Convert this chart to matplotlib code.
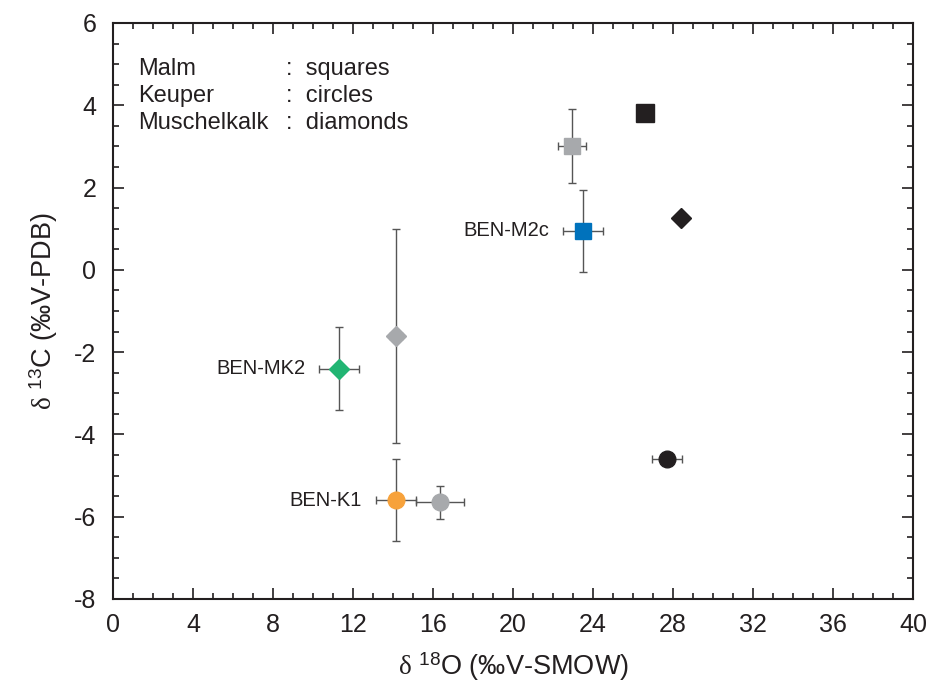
import matplotlib.pyplot as plt
from matplotlib.ticker import MultipleLocator

plt.rcParams.update({'font.size': 14, 'font.family': 'Liberation Sans',
                     'axes.unicode_minus': False,
                     'mathtext.fontset': 'custom',
                     'mathtext.rm': 'Liberation Sans',
                     'mathtext.it': 'Liberation Serif'})

# isotope data: d18O (V-SMOW), d13C (V-PDB), errors
malm_x = [26.6, 22.95, 23.5]
malm_y = [3.8, 3.0, 0.95]
malm_xerr = [0.0, 0.7, 1.0]
malm_yerr = [0.0, 0.9, 1.0]
malm_col = ['#231f20', '#a7a9ac', '#0072bc']

keuper_x = [27.7, 16.35, 14.15]
keuper_y = [-4.6, -5.65, -5.6]
keuper_xerr = [0.75, 1.2, 1.0]
keuper_yerr = [0.0, 0.4, 1.0]
keuper_col = ['#231f20', '#a7a9ac', '#f7a23b']

musch_x = [28.4, 14.15, 11.3]
musch_y = [1.25, -1.6, -2.4]
musch_xerr = [0.0, 0.3, 1.0]
musch_yerr = [0.0, 2.6, 1.0]
musch_col = ['#231f20', '#a7a9ac', '#21b573']

sample_names = ['BEN-M2c', 'BEN-K1', 'BEN-MK2']
sample_x = [malm_x[2], keuper_x[2], musch_x[2]]
sample_y = [malm_y[2], keuper_y[2], musch_y[2]]
sample_dx = [-1.7, -1.7, -1.7]

fig = plt.figure(figsize=(9.31, 6.84), dpi=100)
ax = fig.add_axes([0.1214, 0.1243, 0.8593, 0.8421])

def plot_group(xs, ys, xe, ye, cols, marker, sizes):
    for x, y, dx, dy, c, ms in zip(xs, ys, xe, ye, cols, sizes):
        ax.errorbar(x, y, xerr=dx if dx else None, yerr=dy if dy else None,
                    fmt='none', ecolor='#555555', elinewidth=1.0,
                    capsize=3, capthick=1.0, zorder=2)
        ax.plot(x, y, marker=marker, ms=ms, color=c, mec=c, ls='none', zorder=3)

plot_group(malm_x, malm_y, malm_xerr, malm_yerr, malm_col, 's', [12.5, 12, 12])
plot_group(keuper_x, keuper_y, keuper_xerr, keuper_yerr, keuper_col, 'o', [12, 12, 12])
plot_group(musch_x, musch_y, musch_xerr, musch_yerr, musch_col, 'D', [10.5, 10, 10.5])

for name, x, y, dx in zip(sample_names, sample_x, sample_y, sample_dx):
    ax.text(x + dx, y, name, ha='right', va='center', fontsize=14.5, color='#231f20')

# group / marker key
key_left = ['Malm', 'Keuper', 'Muschelkalk']
key_right = [':  squares', ':  circles', ':  diamonds']
for i, (a, b) in enumerate(zip(key_left, key_right)):
    yk = 4.88 - i * 0.66
    ax.text(1.25, yk, a, ha='left', va='center', fontsize=17, color='#231f20')
    ax.text(8.65, yk, b, ha='left', va='center', fontsize=17, color='#231f20')

ax.set_xlim(0, 40)
ax.set_ylim(-8, 6)
ax.xaxis.set_major_locator(MultipleLocator(4))
ax.xaxis.set_minor_locator(MultipleLocator(1))
ax.yaxis.set_major_locator(MultipleLocator(2))
ax.yaxis.set_minor_locator(MultipleLocator(0.5))
ax.tick_params(which='both', direction='in', top=True, right=True,
               width=1.2, colors='#231f20', labelcolor='#231f20')
ax.tick_params(which='major', length=8, labelsize=18)
ax.tick_params(axis='x', which='major', pad=10)
ax.tick_params(axis='y', which='major', pad=12)
ax.tick_params(which='minor', length=4)
for s in ax.spines.values():
    s.set_linewidth(1.5)
    s.set_color('#231f20')

ax.set_xlabel(r'$\delta$ $^{18}$O (‰V-SMOW)', fontsize=19.5, color='#231f20', labelpad=10)
ax.set_ylabel(r'$\delta$ $^{13}$C (‰V-PDB)', fontsize=19.5, color='#231f20', labelpad=10)

fig.savefig('out.png', dpi=100)
